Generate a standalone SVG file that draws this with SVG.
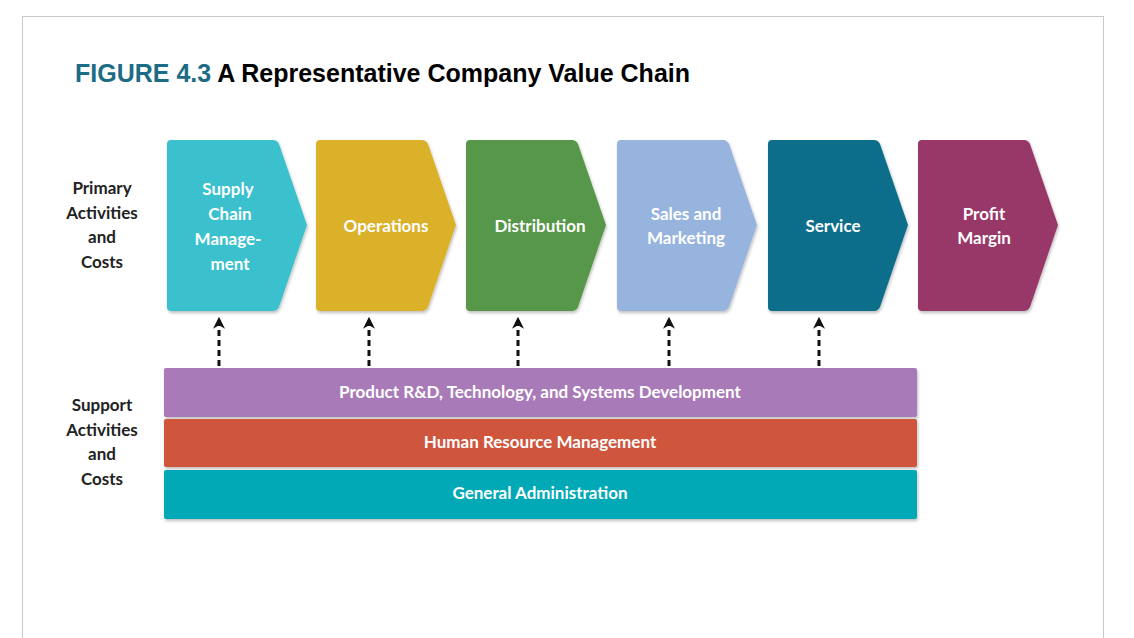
<svg xmlns="http://www.w3.org/2000/svg" width="1134" height="638" viewBox="0 0 1134 638">
<style>
.lbl{font-family:"Lato","Liberation Sans",sans-serif;font-weight:bold;font-size:17px;fill:#fff;text-anchor:middle}
.side{font-family:"Lato","Liberation Sans",sans-serif;font-weight:bold;font-size:17px;fill:#222;text-anchor:middle}
.conn{stroke:#111;stroke-width:3;stroke-dasharray:6,4;fill:none}
</style>
<defs>
<marker id="ah" viewBox="0 0 10 10" refX="9" refY="5" markerWidth="4" markerHeight="4" orient="auto"><path d="M0,0 L10,5 L0,10 L3,5 Z" fill="#111"/></marker>
<filter id="sh" x="-5%" y="-5%" width="115%" height="115%"><feDropShadow dx="1" dy="2" stdDeviation="1.5" flood-opacity="0.25"/></filter>
<path id="chev" d="M4,0 H106 Q110,0 112,4 L140,85 L112,167 Q110,171 106,171 H4 Q0,171 0,167 V4 Q0,0 4,0 Z"/>
</defs>
<rect x="0" y="0" width="1134" height="638" fill="#fff"/>
<rect x="22.5" y="16.5" width="1081" height="640" fill="#fff" stroke="#c8c8c8"/>
<text x="75" y="82" font-family="Liberation Sans,Arial,sans-serif" font-weight="bold" font-size="25"><tspan fill="#1b6c84">FIGURE 4.3</tspan><tspan fill="#000"> A Representative Company Value Chain</tspan></text>
<text class="side" x="102" y="194">Primary</text>
<text class="side" x="102" y="219">Activities</text>
<text class="side" x="102" y="243">and</text>
<text class="side" x="102" y="268">Costs</text>
<text class="side" x="102" y="411">Support</text>
<text class="side" x="102" y="436">Activities</text>
<text class="side" x="102" y="460">and</text>
<text class="side" x="102" y="485">Costs</text>
<g id="scm"><use href="#chev" x="167" y="140" fill="#3bc1cd" filter="url(#sh)"/><text class="lbl" x="228" y="195">Supply</text><text class="lbl" x="230" y="220">Chain</text><text class="lbl" x="228" y="245">Manage-</text><text class="lbl" x="230" y="270">ment</text></g>
<g id="ops"><use href="#chev" x="316" y="140" fill="#dbb12b" filter="url(#sh)"/><text class="lbl" x="386" y="232">Operations</text></g>
<g id="dist"><use href="#chev" x="466" y="140" fill="#57974a" filter="url(#sh)"/><text class="lbl" x="540" y="232">Distribution</text></g>
<g id="sales"><use href="#chev" x="617" y="140" fill="#96b4dd" filter="url(#sh)"/><text class="lbl" x="686" y="220">Sales and</text><text class="lbl" x="686" y="244">Marketing</text></g>
<g id="service"><use href="#chev" x="768" y="140" fill="#0b6e8c" filter="url(#sh)"/><text class="lbl" x="833" y="232">Service</text></g>
<g id="profit"><use href="#chev" x="918" y="140" fill="#973767" filter="url(#sh)"/><text class="lbl" x="984" y="220">Profit</text><text class="lbl" x="984" y="244">Margin</text></g>
<g id="rd"><rect x="164" y="368" width="753" height="49" rx="2" fill="#a97ab8" filter="url(#sh)"/><text class="lbl" x="540" y="398">Product R&amp;D, Technology, and Systems Development</text></g>
<g id="hrm"><rect x="164" y="419" width="753" height="48" rx="2" fill="#d0553d" filter="url(#sh)"/><text class="lbl" x="540" y="448">Human Resource Management</text></g>
<g id="ga"><rect x="164" y="470" width="753" height="49" rx="2" fill="#02a9b5" filter="url(#sh)"/><text class="lbl" x="540" y="499">General Administration</text></g>
<g id="connectors">
<path class="conn" d="M219,366 V318" marker-end="url(#ah)"/>
<path class="conn" d="M369,366 V318" marker-end="url(#ah)"/>
<path class="conn" d="M518,366 V318" marker-end="url(#ah)"/>
<path class="conn" d="M669,366 V318" marker-end="url(#ah)"/>
<path class="conn" d="M819,366 V318" marker-end="url(#ah)"/>
</g>
</svg>
